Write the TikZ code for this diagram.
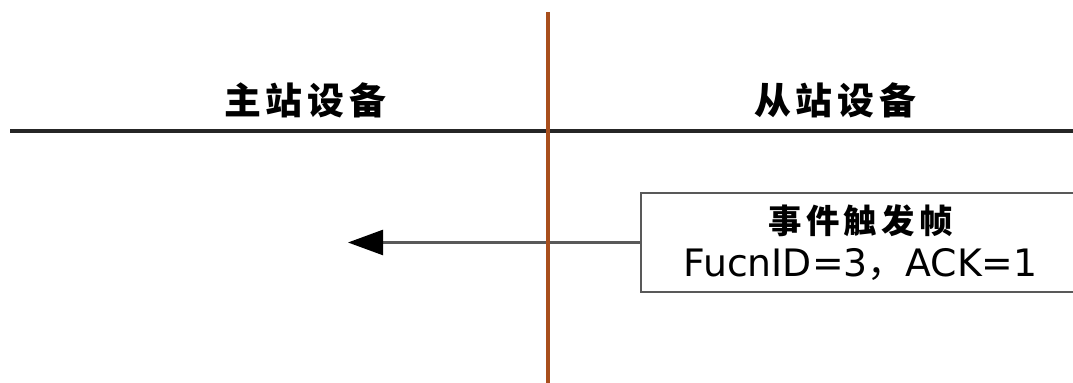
\documentclass[tikz,border=0pt]{standalone}
\usepackage{fontspec}
\setmainfont{DejaVu Sans}
\newfontfamily\cjk[LetterSpace=13]{Noto Sans CJK SC}
\newfontfamily\cjkplain{Noto Sans CJK SC}
\usetikzlibrary{arrows.meta}
\definecolor{axisbrown}{RGB}{168,78,28}
\begin{document}
\begin{tikzpicture}[
			rule/.style = {line width=2.1pt, black!85},
			divider/.style = {line width=2pt, axisbrown},
			msgline/.style = {line width=1.4pt, black!65, -{Triangle[length=0.7cm,width=0.5cm,black]}},
			station/.style = {font=\cjk\bfseries\fontsize{21}{24}\selectfont, inner sep=0pt},
			framebox/.style = {draw=black!65, line width=1.4pt, minimum width=8.78cm, minimum height=1.98cm, align=center, inner sep=0pt}]
			
			\useasboundingbox (0,0) rectangle (21.46,7.66);
			
			% station headings and rules
			\draw[rule] (0.2,5.04) -- (21.46,5.04);
			\node[station] (master) at (6.1,5.66) {主站设备};
			\node[station] (slave) at (16.7,5.66) {从站设备};
			
			% event frame sent by the slave
			\node[framebox, fill=white] (frame) at (17.21,2.81)
				{{\cjk\bfseries\fontsize{19}{22}\selectfont 事件触发帧}\\[6pt]
				 {\fontsize{21.5}{24}\selectfont FucnID=3{\cjkplain ，}ACK=1}};
			\coordinate (tip) at (6.96,2.81);
			\draw[msgline] (frame.west) -- (tip);
			
			\draw[divider] (10.96,7.42) -- (10.96,0);
			\end{tikzpicture}
\end{document}
